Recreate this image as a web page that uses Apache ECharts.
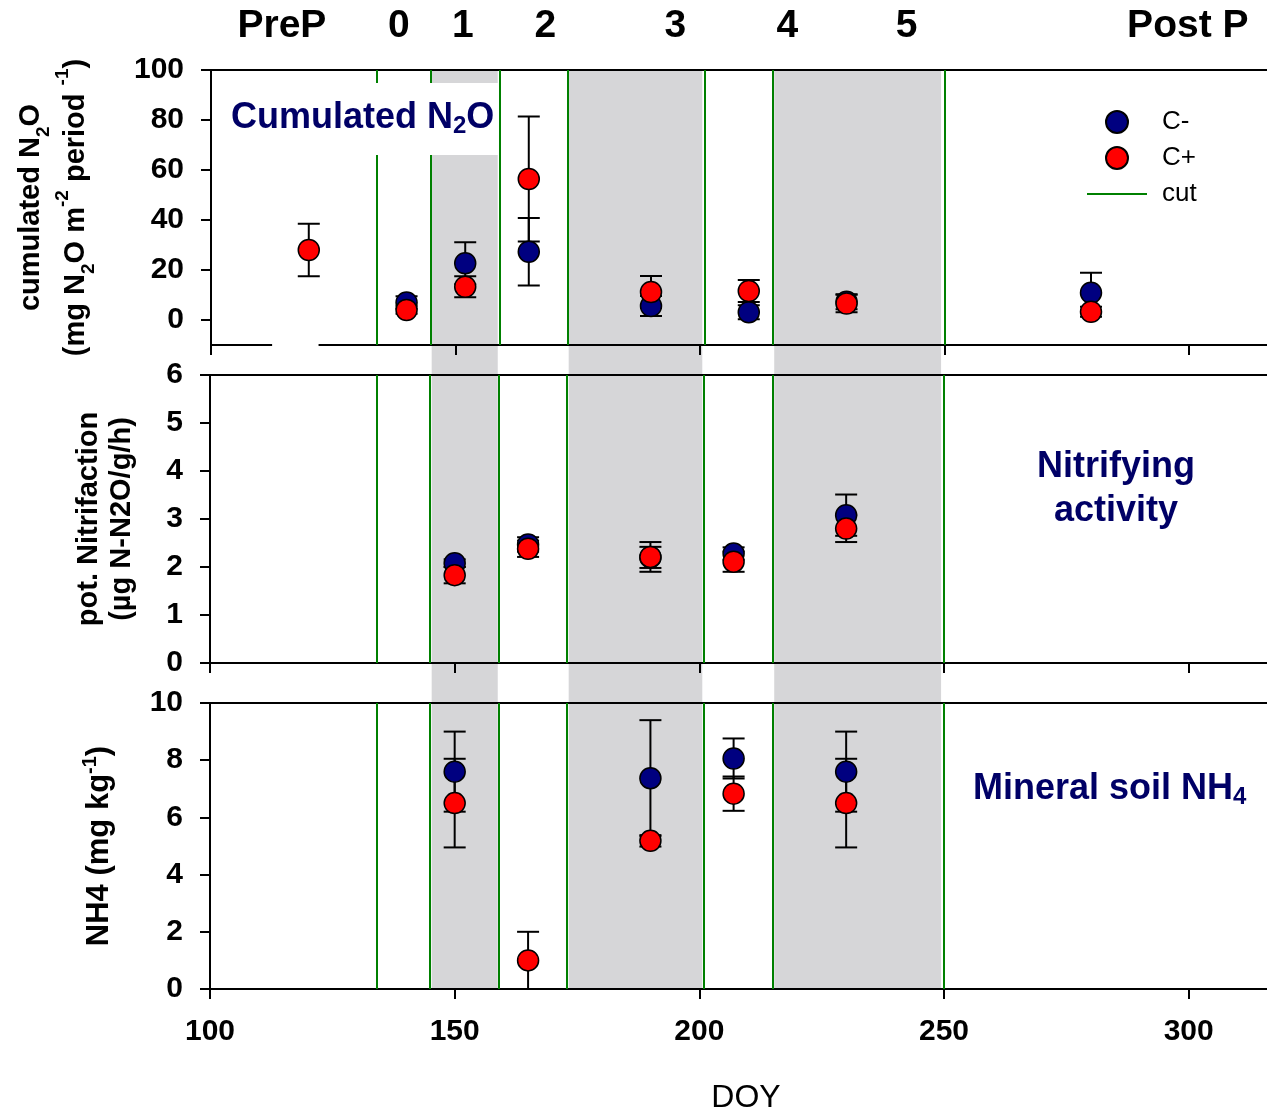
<!DOCTYPE html>
<html>
<head>
<meta charset="utf-8">
<script src="https://cdn.jsdelivr.net/npm/echarts@6/dist/echarts.min.js"></script>
<style>
html, body { margin: 0; padding: 0; background: #fff; }
#main { width: 1267px; height: 1115px; }
</style>
</head>
<body>
<div id="main"></div>
<script>
// cut dates (green lines) and grey periods
var cutDays = [134, 145, 159, 173, 201, 215, 250]
var shadedPeriods = [[145.3, 158.8], [173.3, 200.6], [215.3, 249.4]]
var periodNames = ['PreP', '0', '1', '2', '3', '4', '5', 'Post P']
var periodDoy = [114.5, 138.4, 151.5, 168.4, 195, 217.9, 242.3, 299.8]
var xTicks = [100, 150, 200, 250, 300]

// cumulated N2O
var n2oDoy = [120, 140, 152, 165, 190, 210, 230, 280]
var n2oCminus = [null, 7, 22.7, 27.3, 5.6, 3.1, 7.3, 10.9]
var n2oCminusErr = [null, 2.5, 8.4, 13.5, 4, 2.8, 3, 8]
var n2oCplus = [28, 4, 13.3, 56.4, 11.2, 11.6, 6.6, 3.3]
var n2oCplusErr = [10.5, 1.5, 4.2, 25, 6.4, 4.4, 3.5, 2]
var n2oTicks = [0, 20, 40, 60, 80, 100]
var axisGap = [112.5, 122]  // white break in the lower line of panel 1

// potential nitrification
var nitDoy = [150, 165, 190, 207, 230]
var nitCminus = [2.08, 2.47, 2.2, 2.28, 3.08]
var nitCminusErr = [0.08, 0.15, 0.22, 0.13, 0.43]
var nitCplus = [1.83, 2.38, 2.21, 2.11, 2.8]
var nitCplusErr = [0.17, 0.17, 0.31, 0.21, 0.28]

// mineral soil NH4
var nh4Doy = [150, 165, 190, 207, 230]
var nh4Cminus = [7.6, null, 7.37, 8.06, 7.6]
var nh4CminusErr = [1.4, null, 2.03, 0.7, 1.4]
var nh4Cplus = [6.5, 1.0, 5.18, 6.83, 6.5]
var nh4CplusErr = [1.55, 1.0, 0.2, 0.6, 1.55]

var FONT = 'Liberation Sans, Arial, sans-serif'
var NAVY = '#000066'

function points(doy, vals) {
  var out = []
  for (var i = 0; i < doy.length; i++) {
    if (vals[i] != null) out.push([doy[i], vals[i]])
  }
  return out
}
function errors(doy, vals, errs) {
  var out = []
  for (var i = 0; i < doy.length; i++) {
    if (vals[i] != null) out.push([doy[i], vals[i] - errs[i], vals[i] + errs[i]])
  }
  return out
}

function errorBarItem(params, api) {
  var x = api.value(0)
  var lo = api.coord([x, api.value(1)])
  var hi = api.coord([x, api.value(2)])
  var w = 11
  var st = { stroke: '#000', lineWidth: 2 }
  return {
    type: 'group',
    children: [
      { type: 'line', shape: { x1: lo[0], y1: lo[1], x2: hi[0], y2: hi[1] }, style: st },
      { type: 'line', shape: { x1: lo[0] - w, y1: lo[1], x2: lo[0] + w, y2: lo[1] }, style: st },
      { type: 'line', shape: { x1: hi[0] - w, y1: hi[1], x2: hi[0] + w, y2: hi[1] }, style: st }
    ]
  }
}

var panels = [
  { doy: n2oDoy, cm: n2oCminus, cmErr: n2oCminusErr, cp: n2oCplus, cpErr: n2oCplusErr },
  { doy: nitDoy, cm: nitCminus, cmErr: nitCminusErr, cp: nitCplus, cpErr: nitCplusErr },
  { doy: nh4Doy, cm: nh4Cminus, cmErr: nh4CminusErr, cp: nh4Cplus, cpErr: nh4CplusErr }
]

var grids = [
  { left: 210, right: 0, top: 70, height: 275 },
  { left: 210, right: 0, top: 375, height: 288 },
  { left: 210, right: 0, top: 703, height: 289 },
  { left: 210, right: 0, top: 70, height: 920 }   // background for the grey periods
]

var lineStyle = { color: '#000', width: 2 }
var labelStyle = { fontFamily: FONT, fontSize: 30, fontWeight: 'bold', color: '#000' }

var xAxes = []
for (var i = 0; i < 3; i++) {
  xAxes.push({
    type: 'value', gridIndex: i, min: 100, max: 316, position: 'bottom', z: 3,
    axisLine: { onZero: false, lineStyle: lineStyle },
    axisTick: { length: 10, lineStyle: lineStyle, customValues: xTicks },
    axisLabel: Object.assign({ show: i == 2, margin: 28, customValues: xTicks }, labelStyle),
    splitLine: { show: false },
    name: i == 2 ? 'DOY' : '',
    nameLocation: 'middle', nameGap: 93,
    nameTextStyle: { fontFamily: FONT, fontSize: 32, color: '#000', padding: [0, 0, 0, 15] }
  })
  xAxes.push({
    type: 'value', gridIndex: i, min: 100, max: 316, position: 'top', z: 3,
    axisLine: { onZero: false, lineStyle: lineStyle },
    axisTick: { show: false }, axisLabel: { show: false }, splitLine: { show: false }
  })
}
xAxes.push({ type: 'value', gridIndex: 3, min: 100, max: 316, show: false })

var nameBase = { fontFamily: FONT, fontSize: 29, fontWeight: 'bold', color: '#000' }
function yAxis(idx, min, max, ticks, name, gap, lh, rich) {
  return {
    type: 'value', gridIndex: idx, min: min, max: max, z: 3,
    axisLine: { show: true, onZero: false, lineStyle: lineStyle },
    axisTick: { show: true, length: 10, lineStyle: lineStyle, customValues: ticks },
    axisLabel: Object.assign({ margin: 27, customValues: ticks }, labelStyle),
    splitLine: { show: false },
    name: name, nameLocation: 'middle', nameRotate: 90, nameGap: gap,
    nameTextStyle: Object.assign({ lineHeight: lh, rich: rich }, nameBase)
  }
}
var richN2o = {
  a: Object.assign({ lineHeight: 45 }, nameBase),
  sub: Object.assign({}, nameBase, { fontSize: 19, lineHeight: 24, verticalAlign: 'bottom' }),
  sup: Object.assign({}, nameBase, { fontSize: 19, lineHeight: 30, verticalAlign: 'top' })
}
var richNit = { a: Object.assign({ lineHeight: 33 }, nameBase) }
var nh4Base = Object.assign({}, nameBase, { fontSize: 31 })
var richNh4 = {
  a: Object.assign({ lineHeight: 38 }, nh4Base),
  sup: Object.assign({}, nh4Base, { fontSize: 20, lineHeight: 22, verticalAlign: 'top' })
}

var yAxes = [
  yAxis(0, -10, 100, n2oTicks,
    '{a|cumulated N}{sub|2}{a|O}\n{a|(mg N}{sub|2}{a|O m}{sup|-2}{a| period }{sup|-1}{a|)}', 113, 45, richN2o),
  yAxis(1, 0, 6, [0, 1, 2, 3, 4, 5, 6],
    '{a|pot. Nitrifaction}\n{a|(µg N-N2O/g/h)}', 72, 33, richNit),
  yAxis(2, 0, 10, [0, 2, 4, 6, 8, 10],
    '{a|NH4 (mg kg}{sup|-1}{a|)}', 92, 38, richNh4),
  { type: 'value', gridIndex: 3, min: 0, max: 1, show: false }
]

var series = [{
  name: 'periods', type: 'line', xAxisIndex: 6, yAxisIndex: 3, data: [], silent: true,
  markArea: {
    silent: true,
    itemStyle: { color: '#d6d6d8' },
    data: shadedPeriods.map(function (p) { return [{ xAxis: p[0] }, { xAxis: p[1] }] })
  }
}]

panels.forEach(function (p, i) {
  series.push({
    name: 'cut', type: 'line', xAxisIndex: 2 * i, yAxisIndex: i, data: [],
    symbol: 'none', color: '#008000', lineStyle: { color: '#008000', width: 2 },
    markLine: {
      silent: true, symbol: 'none', label: { show: false },
      lineStyle: { color: '#008000', width: 2, type: 'solid' },
      data: cutDays.map(function (d) { return { xAxis: d } })
    }
  })
  series.push({
    name: 'C- err', type: 'custom', xAxisIndex: 2 * i, yAxisIndex: i, z: 4,
    renderItem: errorBarItem, encode: { x: 0, y: [1, 2] },
    data: errors(p.doy, p.cm, p.cmErr)
  })
  series.push({
    name: 'C+ err', type: 'custom', xAxisIndex: 2 * i, yAxisIndex: i, z: 4,
    renderItem: errorBarItem, encode: { x: 0, y: [1, 2] },
    data: errors(p.doy, p.cp, p.cpErr)
  })
  series.push({
    name: 'C-', type: 'scatter', xAxisIndex: 2 * i, yAxisIndex: i, z: 6,
    symbol: 'circle', symbolSize: 21,
    itemStyle: { color: '#000080', borderColor: '#000', borderWidth: 1.5, opacity: 1 },
    data: points(p.doy, p.cm)
  })
  series.push({
    name: 'C+', type: 'scatter', xAxisIndex: 2 * i, yAxisIndex: i, z: 7,
    symbol: 'circle', symbolSize: 21,
    itemStyle: { color: '#ff0000', borderColor: '#000', borderWidth: 1.5, opacity: 1 },
    data: points(p.doy, p.cp)
  })
})

series.push({
  name: 'gap', type: 'line', xAxisIndex: 0, yAxisIndex: 0, z: 10, silent: true,
  symbol: 'none', lineStyle: { color: '#fff', width: 3 },
  data: [[axisGap[0], -10], [axisGap[1], -10]]
})

var myChart = echarts.init(document.getElementById('main'))
myChart.setOption({
  animation: false,
  backgroundColor: '#fff',
  grid: grids,
  xAxis: xAxes,
  yAxis: yAxes,
  legend: {
    orient: 'vertical', left: 1087, top: 109, padding: 0,
    itemWidth: 60, itemHeight: 22, itemGap: 10,
    textStyle: { fontFamily: FONT, fontSize: 26, color: '#000', lineHeight: 24, padding: [0, 0, 0, 10] },
    data: [
      { name: 'C-', icon: 'circle' },
      { name: 'C+', icon: 'circle' },
      { name: 'cut', icon: 'path://M0,0 L60,0 L60,2 L0,2 Z' }
    ]
  },
  series: series
})

// text annotations
var titleFont = { fontFamily: FONT, fontSize: 36, fontWeight: 'bold' }
var subFont = Object.assign({}, titleFont, { fill: NAVY, fontSize: 24, lineHeight: 20, verticalAlign: 'bottom' })
var graphics = [
  { type: 'rect', z: 10, shape: { x: 222, y: 83, width: 277, height: 72 }, style: { fill: '#fff' } },
  {
    type: 'text', z: 11, x: 231, y: 118,
    style: {
      text: '{t|Cumulated N}{s|2}{t|O}', fill: NAVY, verticalAlign: 'middle', align: 'left',
      rich: { t: Object.assign({ fill: NAVY, lineHeight: 40 }, titleFont), s: subFont }
    }
  },
  {
    type: 'text', z: 11, x: 1116, y: 489,
    style: {
      text: 'Nitrifying\nactivity', fill: NAVY, align: 'center', verticalAlign: 'middle',
      font: 'bold 36px ' + FONT, lineHeight: 44
    }
  },
  {
    type: 'text', z: 11, x: 973, y: 789,
    style: {
      text: '{t|Mineral soil NH}{s|4}', fill: NAVY, verticalAlign: 'middle', align: 'left',
      rich: { t: Object.assign({ fill: NAVY, lineHeight: 40 }, titleFont), s: subFont }
    }
  }
]
periodNames.forEach(function (name, i) {
  var px = myChart.convertToPixel({ xAxisIndex: 0 }, periodDoy[i])
  graphics.push({
    type: 'text', z: 11, x: px, y: 26,
    style: { text: name, fill: '#000', align: 'center', verticalAlign: 'middle', font: 'bold 39px ' + FONT }
  })
})
myChart.setOption({ graphic: graphics })
</script>
</body>
</html>
